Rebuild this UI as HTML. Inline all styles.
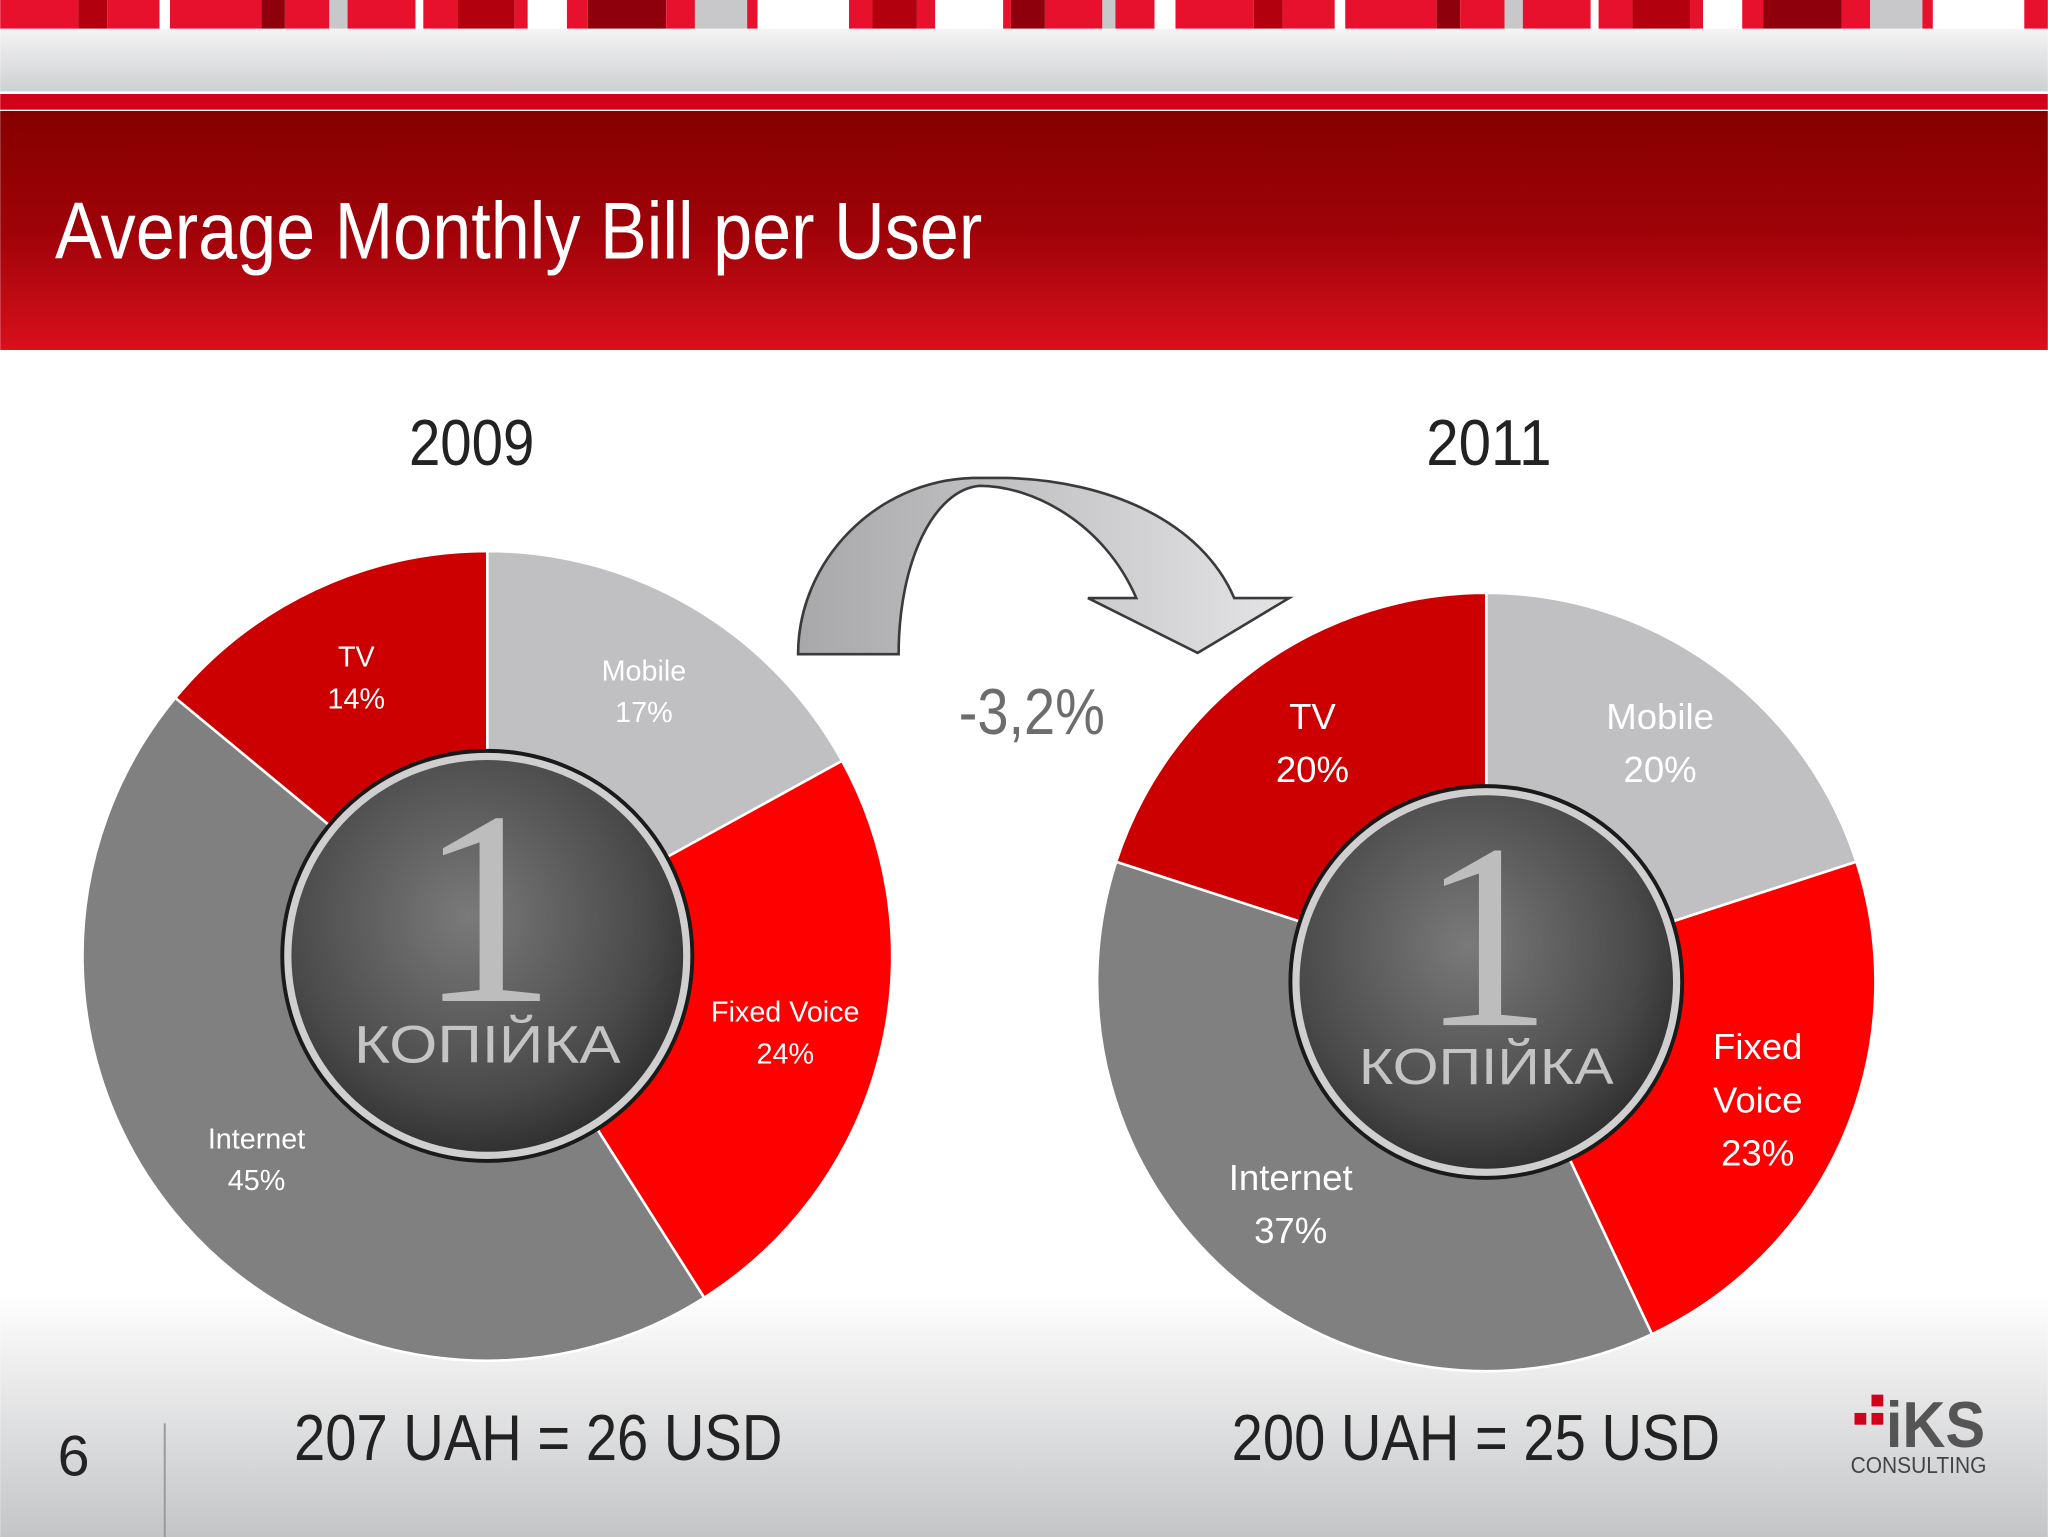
<!DOCTYPE html>
<html><head><meta charset="utf-8"><style>
html,body{margin:0;padding:0;background:#fff;}
svg{display:block;font-family:"Liberation Sans Narrow","Liberation Sans",sans-serif;}
</style></head><body>
<svg id="s" width="2048" height="1537" viewBox="0 0 1568 1177" xmlns="http://www.w3.org/2000/svg">
<defs>
<linearGradient id="hdr" x1="0" y1="0" x2="0" y2="1"><stop offset="0" stop-color="#860000"/><stop offset="0.5" stop-color="#9e0208"/><stop offset="1" stop-color="#d8101c"/></linearGradient>
<linearGradient id="band" x1="0" y1="0" x2="0" y2="1"><stop offset="0" stop-color="#f4f4f5"/><stop offset="1" stop-color="#cfd0d2"/></linearGradient>
<linearGradient id="foot" x1="0" y1="0" x2="0" y2="1"><stop offset="0" stop-color="#ffffff"/><stop offset="1" stop-color="#c4c5c7"/></linearGradient>
<radialGradient id="coin" cx="0.45" cy="0.4" r="0.65"><stop offset="0" stop-color="#7a7a7a"/><stop offset="0.7" stop-color="#4a4a4a"/><stop offset="1" stop-color="#2a2a2a"/></radialGradient>
<linearGradient id="arr" x1="0" y1="0" x2="1" y2="0"><stop offset="0" stop-color="#a8a8aa"/><stop offset="1" stop-color="#e4e4e6"/></linearGradient>
</defs>
<rect width="1568" height="1177" fill="#fff"/>
<g id="stripe"></g>
<rect x="0" y="22" width="1568" height="48" fill="url(#band)"/>
<rect x="0" y="72" width="1568" height="12" fill="#d0021b"/>
<rect x="0" y="85" width="1568" height="183" fill="url(#hdr)"/>
<text x="42" y="198" font-size="62" fill="#fff" textLength="710" lengthAdjust="spacingAndGlyphs">Average Monthly Bill per User</text>
<rect x="0" y="990" width="1568" height="187" fill="url(#foot)"/>
<line x1="126" y1="1090" x2="126" y2="1177" stroke="#9a9a9a" stroke-width="1.5"/>
<text x="44" y="1130" font-size="44" fill="#222">6</text>
<text x="361" y="356" font-size="50" fill="#222" text-anchor="middle" textLength="96" lengthAdjust="spacingAndGlyphs">2009</text>
<text x="1140" y="356" font-size="50" fill="#222" text-anchor="middle" textLength="96" lengthAdjust="spacingAndGlyphs">2011</text>
<path d="M611,501 C611,430 670,368 745,366 L770,366 C850,368 920,400 945,458 L987,458 L917,500 L833,458 L870,458 C845,400 790,372 750,372 C715,375 688,430 688,501 Z" fill="url(#arr)" stroke="#3a3a3a" stroke-width="2"/>
<text x="790" y="562" font-size="50" fill="#6d6d6d" text-anchor="middle" textLength="112" lengthAdjust="spacingAndGlyphs">-3,2%</text>
<g id="pies"></g>
<text x="412" y="1118" font-size="50" fill="#222" text-anchor="middle" textLength="374" lengthAdjust="spacingAndGlyphs">207 UAH = 26 USD</text>
<text x="1130" y="1118" font-size="50" fill="#222" text-anchor="middle" textLength="374" lengthAdjust="spacingAndGlyphs">200 UAH = 25 USD</text>
<g>
<rect x="1433" y="1068" width="9" height="9" fill="#d0021b"/><rect x="1420" y="1082" width="9" height="9" fill="#d0021b"/><rect x="1433" y="1082" width="9" height="9" fill="#d0021b"/>
<text x="1482" y="1108" font-size="50" font-weight="bold" fill="#555" text-anchor="middle" textLength="76" lengthAdjust="spacingAndGlyphs">iKS</text>
<text x="1469" y="1128" font-size="18" fill="#444" text-anchor="middle" textLength="104" lengthAdjust="spacingAndGlyphs">CONSULTING</text>
</g>
</svg>
<script>
const categories=["Mobile","Fixed Voice","Internet","TV"];
const values2009=[17,24,45,14];
const values2011=[20,23,37,20];
const colors=["#c0bfc1","#ff0000","#808080","#cc0000"];
const NS="http://www.w3.org/2000/svg";
const stripeColors=["#e8112d","#b3000f","#e8112d","#fff","#e8112d","#8e000c","#e8112d","#c8c8ca","#e8112d","#fff"];
const st=document.getElementById('stripe');
let x=0,i=0;
const widths=[60,22,40,8,70,18,34,14,52,6,26,44,10,30,16];
while(x<1568){const w=widths[i%widths.length];const r=document.createElementNS(NS,'rect');
r.setAttribute('x',x);r.setAttribute('y',0);r.setAttribute('width',w);r.setAttribute('height',22);
r.setAttribute('fill',stripeColors[i%stripeColors.length]);


st.appendChild(r);x+=w;i++;}
const pies=document.getElementById('pies');
function pt(cx,cy,r,a){return [cx+r*Math.sin(a),cy-r*Math.cos(a)];}
function drawPie(vals,cx,cy,R,coinR,fs,year,labelLines){
  const tot=vals.reduce((a,b)=>a+b,0);let acc=0;
  vals.forEach((v,k)=>{
    const a0=acc/tot*2*Math.PI,a1=(acc+v)/tot*2*Math.PI;
    const p0=pt(cx,cy,R,a0),p1=pt(cx,cy,R,a1);
    const p=document.createElementNS(NS,'path');
    p.setAttribute('d',`M${cx},${cy}L${p0[0]},${p0[1]}A${R},${R} 0 ${a1-a0>Math.PI?1:0} 1 ${p1[0]},${p1[1]}Z`);
    p.setAttribute('fill',colors[k]);p.setAttribute('stroke','#fff');p.setAttribute('stroke-width','2');
    
    
    pies.appendChild(p);
    const am=(acc+v/2)/tot*2*Math.PI;const lp=pt(cx,cy,R*0.76,am);
    const lines=labelLines[k].concat([v+'%']);
    const t=document.createElementNS(NS,'text');
    t.setAttribute('text-anchor','middle');t.setAttribute('fill','#fff');t.setAttribute('font-size',fs);
    
    
    const lh=fs*1.45, y0=lp[1]-(lines.length-1)*lh/2+fs*0.35;
    lines.forEach((s,j)=>{const ts=document.createElementNS(NS,'tspan');ts.setAttribute('x',lp[0]);ts.setAttribute('y',y0+j*lh);ts.textContent=s;t.appendChild(ts);});
    pies.appendChild(t);
    acc+=v;
  });
  const g=document.createElementNS(NS,'g');
  
  
  g.innerHTML=`<circle cx="${cx}" cy="${cy}" r="${coinR}" fill="#cfcfcf" stroke="#1a1a1a" stroke-width="3"/>
<circle cx="${cx}" cy="${cy}" r="${coinR-7}" fill="url(#coin)"/>
<text x="${cx}" y="${cy+coinR*0.22}" font-family="Liberation Serif,serif" font-size="${coinR*1.35}" fill="#bdbdbd" text-anchor="middle">1</text>
<text x="${cx}" y="${cy+coinR*0.52}" font-size="${coinR*0.26}" fill="#c4c4c4" text-anchor="middle" textLength="${coinR*1.3}" lengthAdjust="spacingAndGlyphs">КОПІЙКА</text>`;
  pies.appendChild(g);
}
drawPie(values2009,373,732,310,157,22,'2009',[["Mobile"],["Fixed Voice"],["Internet"],["TV"]]);
drawPie(values2011,1138,752,298,150,28,'2011',[["Mobile"],["Fixed","Voice"],["Internet"],["TV"]]);
</script>
</body></html>
